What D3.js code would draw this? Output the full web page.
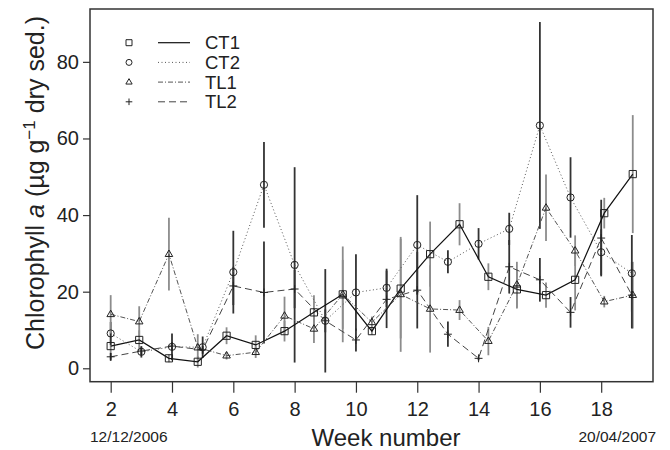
<!DOCTYPE html>
<html>
<head>
  <meta charset="utf-8">
  <script src="https://d3js.org/d3.v7.min.js"></script>
  <style>
    body { margin: 0; background: #fff; }
    svg { font-family: "Liberation Sans", Arial, Helvetica, sans-serif; }
  </style>
</head>
<body>
  <svg width="670" height="450"></svg>

  <script>
    // sampling weeks (CT1/TL1 and CT2/TL2 were sampled on different days)
    var weeksA = [2, 2.93, 3.9, 4.84, 5.78, 6.73, 7.67, 8.63, 9.57, 10.52, 11.46, 12.42, 13.38, 14.32, 15.25, 16.2, 17.15, 18.1, 19.03];
    var weeksB = [2, 3, 4, 5, 6, 7, 8, 9, 10, 11, 12, 13, 14, 15, 16, 17, 18, 19];

    var ct1 = [5.8, 7.4, 2.6, 1.7, 8.5, 6.1, 9.7, 14.6, 19.3, 9.7, 20.8, 29.8, 37.6, 23.9, 20.6, 19.1, 23.1, 40.5, 50.7];
    var ct1Err = [3.5, 2.5, 1, 1.5, 2.2, 2.5, 2.7, 4.5, 12.5, 1, 13, 8.5, 5.5, 3.5, 5, 3.3, 8, 4, 15.4];

    var ct2 = [9.1, 4.3, 5.6, 5.5, 25.1, 47.9, 27.0, 12.4, 19.8, 21.0, 32.2, 27.8, 32.5, 36.4, 63.4, 44.6, 30.3, 24.8];
    var ct2Err = [3, 1.5, 3.5, 2.8, 10.8, 11.2, 25.5, 13.5, 10, 5, 13, 3, 4.1, 4.2, 27, 10.5, 6, 10];

    var tl1 = [14.1, 12.2, 29.8, 5.4, 3.3, 4.2, 13.7, 10.3, 19.3, 12.0, 19.3, 15.5, 15.2, 7.1, 21.8, 41.9, 30.7, 17.4, 19.1];
    var tl1Err = [5, 4, 9.5, 3.5, 1, 1.5, 5, 3.7, 9, 1.5, 15, 11.4, 2.6, 3.7, 6, 8.7, 4, 1.5, 8.7];

    var tl2 = [3.0, 4.5, 5.8, 4.8, 21.5, 19.8, 20.7, 12.4, 7.4, 18.0, 20.4, 8.9, 2.6, 26.5, 23.1, 14.6, 34.0, 19.1];
    var tl2Err = [1, 1, 1, 1, 5, 13.3, 5, 3, 3, 7.5, 10, 3.3, 0.5, 7, 5.7, 4, 10, 8.7];

    var seriesNames = ["CT1", "CT2", "TL1", "TL2"];
    var xTicks = [2, 4, 6, 8, 10, 12, 14, 16, 18];
    var yTicks = [0, 20, 40, 60, 80];

    var series = [
      { name: "CT1", weeks: weeksA, vals: ct1, err: ct1Err, shape: "square", dash: null, lineColor: "#111", barColor: "#8c8c8c" },
      { name: "CT2", weeks: weeksB, vals: ct2, err: ct2Err, shape: "circle", dash: "1,2.5", lineColor: "#555", barColor: "#333" },
      { name: "TL1", weeks: weeksA, vals: tl1, err: tl1Err, shape: "triangle", dash: "5,2,1,2", lineColor: "#555", barColor: "#8c8c8c" },
      { name: "TL2", weeks: weeksB, vals: tl2, err: tl2Err, shape: "plus", dash: "7,4", lineColor: "#444", barColor: "#333" }
    ];

    var plotLeft = 90, plotRight = 653, plotTop = 9, plotBottom = 381.7;

    var x = d3.scaleLinear().domain([1.325, 19.69]).range([plotLeft, plotRight]);
    var y = d3.scaleLinear().domain([-3.5, 93.8]).range([plotBottom, plotTop]);

    var svg = d3.select("svg");

    function shapePath(shape, s) {
      if (shape === "square") return "M" + (-s) + "," + (-s) + "h" + 2 * s + "v" + 2 * s + "h" + (-2 * s) + "Z";
      if (shape === "triangle") return "M0," + (-s * 1.15) + "L" + s * 1.05 + "," + s * 0.65 + "L" + (-s * 1.05) + "," + s * 0.65 + "Z";
      if (shape === "plus") return "M" + (-s * 1.1) + ",0H" + s * 1.1 + "M0," + (-s * 1.1) + "V" + s * 1.1;
      return d3.symbol(d3.symbolCircle, Math.PI * s * s)();
    }

    // error bars
    series.forEach(function(sr) {
      svg.append("g").selectAll("line")
        .data(sr.vals)
        .enter()
        .append("line")
        .attr("x1", (d, i) => x(sr.weeks[i]))
        .attr("x2", (d, i) => x(sr.weeks[i]))
        .attr("y1", (d, i) => y(d - sr.err[i]))
        .attr("y2", (d, i) => y(d + sr.err[i]))
        .attr("stroke", sr.barColor)
        .attr("stroke-width", 1.8);
    });

    // connecting lines
    var line = d3.line();
    series.forEach(function(sr) {
      svg.append("path")
        .attr("d", line(sr.vals.map((d, i) => [x(sr.weeks[i]), y(d)])))
        .attr("fill", "none")
        .attr("stroke", sr.lineColor)
        .attr("stroke-width", sr.dash ? 1 : 1.2)
        .attr("stroke-dasharray", sr.dash);
    });

    // markers
    series.forEach(function(sr) {
      svg.append("g").selectAll("path")
        .data(sr.vals)
        .enter()
        .append("path")
        .attr("transform", (d, i) => "translate(" + x(sr.weeks[i]) + "," + y(d) + ")")
        .attr("d", shapePath(sr.shape, 3.6))
        .attr("fill", "none")
        .attr("stroke", "#222")
        .attr("stroke-width", 1);
    });

    // axes
    var xAxis = svg.append("g")
      .attr("transform", "translate(0," + plotBottom + ")")
      .call(d3.axisBottom(x).tickValues(xTicks).tickSize(11).tickPadding(9));
    var yAxis = svg.append("g")
      .attr("transform", "translate(" + plotLeft + ",0)")
      .call(d3.axisLeft(y).tickValues(yTicks).tickSize(7).tickPadding(4));

    [xAxis, yAxis].forEach(function(ax) {
      ax.select(".domain").remove();
      ax.selectAll("line").attr("stroke", "#333").attr("stroke-width", 1.2);
      ax.selectAll("text").attr("font-size", 20).attr("fill", "#222")
        .style("font-family", "'Liberation Sans', Arial, sans-serif");
    });

    svg.append("rect")
      .attr("x", plotLeft)
      .attr("y", plotTop)
      .attr("width", plotRight - plotLeft)
      .attr("height", plotBottom - plotTop)
      .attr("fill", "none")
      .attr("stroke", "#333")
      .attr("stroke-width", 1.5);

    // axis titles
    svg.append("text")
      .attr("x", 386)
      .attr("y", 446)
      .attr("text-anchor", "middle")
      .attr("font-size", 24)
      .attr("fill", "#222")
      .text("Week number");

    svg.append("text")
      .attr("x", 90)
      .attr("y", 442)
      .attr("font-size", 15.5)
      .attr("fill", "#222")
      .text("12/12/2006");

    svg.append("text")
      .attr("x", 656)
      .attr("y", 442)
      .attr("text-anchor", "end")
      .attr("font-size", 15.5)
      .attr("fill", "#222")
      .text("20/04/2007");

    var yTitle = svg.append("text")
      .attr("transform", "translate(44,183) rotate(-90)")
      .attr("text-anchor", "middle")
      .attr("font-size", 25)
      .attr("fill", "#222");
    yTitle.append("tspan").text("Chlorophyll ");
    yTitle.append("tspan").attr("font-style", "italic").text("a");
    yTitle.append("tspan").text(" (µg g");
    yTitle.append("tspan").attr("font-size", 17).attr("dy", -9).text("\u22121");
    yTitle.append("tspan").attr("dy", 9).text(" dry sed.)");

    // legend
    var legend = svg.append("g");
    seriesNames.forEach(function(name, i) {
      var sr = series[i];
      var ly = 42.7 + i * 19.7;
      legend.append("path")
        .attr("transform", "translate(129," + ly + ")")
        .attr("d", shapePath(sr.shape, 3))
        .attr("fill", "none")
        .attr("stroke", "#222")
        .attr("stroke-width", 1);
      legend.append("line")
        .attr("x1", 158).attr("x2", 190)
        .attr("y1", ly).attr("y2", ly)
        .attr("stroke", sr.lineColor)
        .attr("stroke-width", sr.dash ? 1 : 1.2)
        .attr("stroke-dasharray", sr.dash);
      legend.append("text")
        .attr("x", 205)
        .attr("y", ly + 6.5)
        .attr("font-size", 18.5)
        .attr("fill", "#222")
        .text(name);
    });
  </script>
</body>
</html>
